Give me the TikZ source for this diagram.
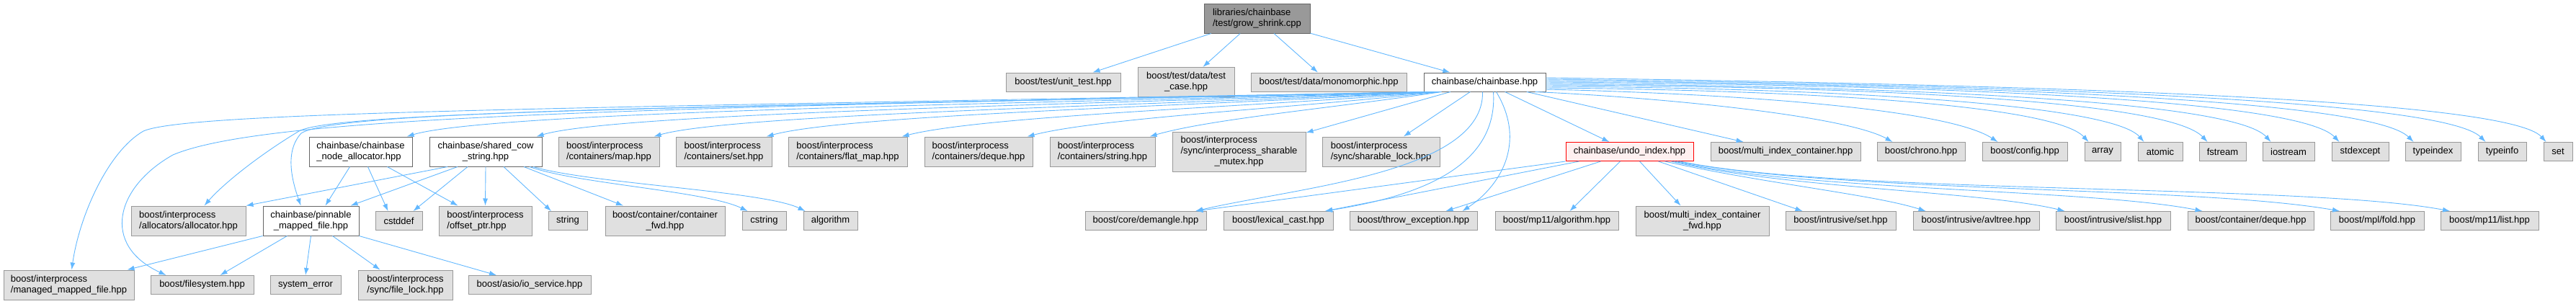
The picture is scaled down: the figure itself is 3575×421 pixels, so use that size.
\documentclass[tikz,border=0pt]{standalone}
\usepackage{fontspec}
\setmainfont{Liberation Sans}
\usetikzlibrary{arrows.meta}
\definecolor{EdgeBlue}{HTML}{63B8FF}
\definecolor{ExtFill}{HTML}{E0E0E0}
\definecolor{ExtLine}{HTML}{999999}
\definecolor{RootFill}{HTML}{999999}
\definecolor{IncLine}{HTML}{666666}
\definecolor{CurFill}{HTML}{FFF0F0}
\definecolor{CurLine}{HTML}{FF0000}
\newcommand{\centerlast}[1]{\multicolumn{1}{@{}c@{}}{#1}}
\tikzset{
  file/.style={rectangle,inner sep=0pt,align=left,line width=1pt,
               font={\fontsize{13pt}{15pt}\selectfont}},
  ext/.style={file,draw=ExtLine,fill=ExtFill},
  inc/.style={file,draw=IncLine,fill=white},
  root/.style={file,draw=IncLine,fill=RootFill},
  cur/.style={file,draw=CurLine,fill=CurFill},
  h1/.style={minimum height=26pt},
  h2/.style={minimum height=41pt},
  h3/.style={minimum height=55pt},
  dep/.style={draw=EdgeBlue,line width=0.9pt,-{Latex[length=10pt,width=7pt]}}
}
\begin{document}
\begin{tikzpicture}[x=1pt,y=1pt]
\useasboundingbox (0,0) rectangle (3575,-421);
\node[root,h2,minimum width=147pt] (root) at (1744.5,-25.5) {libraries/chainbase\\/test/grow\_shrink.cpp};

\node[ext,h1,minimum width=159pt] (unittest) at (1475.5,-114) {boost/test/unit\_test.hpp};
\node[ext,h2,minimum width=134pt] (testcase) at (1646,-114) {\begin{tabular}{@{}l@{}}boost/test/data/test\\\centerlast{\_case.hpp}\end{tabular}};
\node[ext,h1,minimum width=216pt] (mono) at (1844,-114) {boost/test/data/monomorphic.hpp};
\node[inc,h1,minimum width=169pt] (chain) at (2060.5,-114) {chainbase/chainbase.hpp};

\node[inc,h2,minimum width=143pt] (nodealloc) at (500.5,-210.5) {chainbase/chainbase\\\_node\_allocator.hpp};
\node[inc,h2,minimum width=156pt] (cowstr) at (674,-210.5) {\begin{tabular}{@{}l@{}}chainbase/shared\_cow\\\centerlast{\_string.hpp}\end{tabular}};
\node[ext,h2,minimum width=140pt] (ipmap) at (845,-210.5) {boost/interprocess\\/containers/map.hpp};
\node[ext,h2,minimum width=133pt] (ipset) at (1004.5,-210.5) {boost/interprocess\\/containers/set.hpp};
\node[ext,h2,minimum width=165pt] (ipflatmap) at (1176.5,-210.5) {boost/interprocess\\/containers/flat\_map.hpp};
\node[ext,h2,minimum width=150pt] (ipdeque) at (1358,-210.5) {boost/interprocess\\/containers/deque.hpp};
\node[ext,h2,minimum width=146pt] (ipstring) at (1530,-210.5) {boost/interprocess\\/containers/string.hpp};
\node[ext,h3,minimum width=185pt] (ipmutex) at (1719.5,-210.5) {\begin{tabular}{@{}l@{}}boost/interprocess\\/sync/interprocess\_sharable\\\centerlast{\_mutex.hpp}\end{tabular}};
\node[ext,h2,minimum width=163pt] (iplock) at (1916.5,-210.5) {boost/interprocess\\/sync/sharable\_lock.hpp};
\node[cur,h1,minimum width=177pt] (undo) at (2261.5,-210.5) {chainbase/undo\_index.hpp};
\node[ext,h1,minimum width=208pt] (mic) at (2478,-210.5) {boost/multi\_index\_container.hpp};
\node[ext,h1,minimum width=122pt] (chrono) at (2666,-210.5) {boost/chrono.hpp};
\node[ext,h1,minimum width=118pt] (config) at (2810,-210.5) {boost/config.hpp};
\node[ext,h1,minimum width=50pt] (array) at (2918,-210.5) {array};
\node[ext,h1,minimum width=62pt] (atomic) at (2998,-210.5) {atomic};
\node[ext,h1,minimum width=65pt] (fstream) at (3084.5,-210.5) {fstream};
\node[ext,h1,minimum width=72pt] (iostream) at (3176,-210.5) {iostream};
\node[ext,h1,minimum width=79pt] (stdexcept) at (3275.5,-210.5) {stdexcept};
\node[ext,h1,minimum width=77pt] (typeindex) at (3376.5,-210.5) {typeindex};
\node[ext,h1,minimum width=67pt] (typeinfo) at (3472.5,-210.5) {typeinfo};
\node[ext,h1,minimum width=40pt] (stdset) at (3550,-210.5) {set};

\node[ext,h2,minimum width=159pt] (ipalloc) at (261.5,-306.5) {boost/interprocess\\/allocators/allocator.hpp};
\node[inc,h2,minimum width=133pt] (pinnable) at (431.5,-306.5) {\begin{tabular}{@{}l@{}}chainbase/pinnable\\\centerlast{\_mapped\_file.hpp}\end{tabular}};
\node[ext,h1,minimum width=65pt] (cstddef) at (553.5,-306.5) {cstddef};
\node[ext,h2,minimum width=129pt] (offsetptr) at (673.5,-306.5) {boost/interprocess\\/offset\_ptr.hpp};
\node[ext,h1,minimum width=54pt] (string) at (788,-306.5) {string};
\node[ext,h2,minimum width=166pt] (contfwd) at (923,-306.5) {\begin{tabular}{@{}l@{}}boost/container/container\\\centerlast{\_fwd.hpp}\end{tabular}};
\node[ext,h1,minimum width=61pt] (cstring) at (1060.5,-306.5) {cstring};
\node[ext,h1,minimum width=75pt] (algorithm) at (1152.5,-306.5) {algorithm};
\node[ext,h1,minimum width=168pt] (demangle) at (1590,-306.5) {boost/core/demangle.hpp};
\node[ext,h1,minimum width=152pt] (lexcast) at (1774,-306.5) {boost/lexical\_cast.hpp};
\node[ext,h1,minimum width=177pt] (throwexc) at (1961.5,-306.5) {boost/throw\_exception.hpp};
\node[ext,h1,minimum width=171pt] (mpalgo) at (2160.5,-306.5) {boost/mp11/algorithm.hpp};
\node[ext,h2,minimum width=185pt] (micfwd) at (2362.5,-306.5) {\begin{tabular}{@{}l@{}}boost/multi\_index\_container\\\centerlast{\_fwd.hpp}\end{tabular}};
\node[ext,h1,minimum width=153pt] (intrset) at (2554.5,-306.5) {boost/intrusive/set.hpp};
\node[ext,h1,minimum width=175pt] (avltree) at (2742.5,-306.5) {boost/intrusive/avltree.hpp};
\node[ext,h1,minimum width=159pt] (slist) at (2932.5,-306.5) {boost/intrusive/slist.hpp};
\node[ext,h1,minimum width=175pt] (contdeque) at (3123.5,-306.5) {boost/container/deque.hpp};
\node[ext,h1,minimum width=130pt] (mplfold) at (3299,-306.5) {boost/mpl/fold.hpp};
\node[ext,h1,minimum width=136pt] (mplist) at (3455,-306.5) {boost/mp11/list.hpp};

\node[ext,h2,minimum width=181pt] (ipmmf) at (95.5,-395.5) {boost/interprocess\\/managed\_mapped\_file.hpp};
\node[ext,h1,minimum width=143pt] (filesystem) at (280.5,-395.5) {boost/filesystem.hpp};
\node[ext,h1,minimum width=98pt] (syserr) at (424,-395.5) {system\_error};
\node[ext,h2,minimum width=131pt] (filelock) at (562.5,-395.5) {boost/interprocess\\/sync/file\_lock.hpp};
\node[ext,h1,minimum width=170pt] (ioservice) at (735,-395.5) {boost/asio/io\_service.hpp};

\draw[dep] (root) -- (unittest);
\draw[dep] (root) -- (testcase);
\draw[dep] (root) -- (mono);
\draw[dep] (root) -- (chain);

\draw[dep] (chain) -- (iplock);
\draw[dep] (chain) -- (ipmutex);
\draw[dep] (chain) -- (undo);
\draw[dep] (chain) -- (mic);
\draw[dep] ([xshift=25pt]chain.south west) .. controls (1850,-150) and (1680,-165) .. ([xshift=-8pt]ipstring.north east);
\draw[dep] ([xshift=23pt]chain.south west) .. controls (1800,-150) and (1530,-163) .. ([xshift=-8pt]ipdeque.north east);
\draw[dep] ([xshift=21pt]chain.south west) .. controls (1750,-148) and (1370,-160) .. ([xshift=-8pt]ipflatmap.north east);
\draw[dep] ([xshift=19pt]chain.south west) .. controls (1700,-146) and (1180,-158) .. ([xshift=-8pt]ipset.north east);
\draw[dep] ([xshift=17pt]chain.south west) .. controls (1650,-145) and (1020,-157) .. ([xshift=-8pt]ipmap.north east);
\draw[dep] ([xshift=15pt]chain.south west) .. controls (1600,-143) and (860,-155) .. ([xshift=-8pt]cowstr.north east);
\draw[dep] ([xshift=13pt]chain.south west) .. controls (1550,-142) and (690,-152) .. ([xshift=-8pt]nodealloc.north east);
\draw[dep] ([xshift=11pt]chain.south west) .. controls (1100,-148) and (470,-150) .. (418,-185) .. controls (395,-210) and (405,-250) .. ([xshift=-14pt]pinnable.north);
\draw[dep] ([xshift=9pt]chain.south west) .. controls (1100,-148) and (470,-152) .. (415,-182) .. controls (360,-215) and (310,-255) .. ([xshift=-58pt]ipalloc.north east);
\draw[dep] ([xshift=7pt]chain.south west) .. controls (900,-150) and (370,-160) .. (240,-215) .. controls (160,-260) and (140,-340) .. ([xshift=-50pt]filesystem.north);
\draw[dep] ([xshift=5pt]chain.south west) .. controls (800,-150) and (260,-155) .. (199,-182) .. controls (150,-210) and (110,-300) .. ([xshift=4pt]ipmmf.north);
\draw[dep] ([xshift=-3pt]chain.south) .. controls (2060,-240) and (1800,-260) .. ([xshift=69pt]demangle.north);
\draw[dep] ([xshift=12pt]chain.south) .. controls (2080,-240) and (1950,-275) .. ([xshift=65pt]lexcast.north);
\draw[dep] ([xshift=16pt]chain.south) .. controls (2120,-200) and (2080,-260) .. ([xshift=68pt]throwexc.north);
\draw[dep] ([xshift=-15pt]chain.south east) .. controls (2300,-135) and (2560,-160) .. ([xshift=22pt]chrono.north west);
\draw[dep] ([yshift=-10pt]chain.east) .. controls (2400,-130) and (2700,-150) .. ([xshift=22pt]config.north west);
\draw[dep] ([yshift=-8pt]chain.east) .. controls (2500,-125) and (2850,-145) .. ([xshift=6pt]array.north west);
\draw[dep] ([yshift=-6pt]chain.east) .. controls (2550,-122) and (2930,-145) .. ([xshift=9pt]atomic.north west);
\draw[dep] ([yshift=-4pt]chain.east) .. controls (2600,-120) and (3010,-140) .. ([xshift=12pt]fstream.north west);
\draw[dep] ([yshift=-2pt]chain.east) .. controls (2650,-120) and (3100,-140) .. ([xshift=12pt]iostream.north west);
\draw[dep] (chain.east) .. controls (2700,-118) and (3190,-138) .. ([xshift=11pt]stdexcept.north west);
\draw[dep] ([yshift=2pt]chain.east) .. controls (2750,-118) and (3290,-138) .. ([xshift=12pt]typeindex.north west);
\draw[dep] ([yshift=4pt]chain.east) .. controls (2800,-118) and (3390,-138) .. ([xshift=11pt]typeinfo.north west);
\draw[dep] ([yshift=6pt]chain.east) .. controls (2850,-118) and (3480,-138) .. ([xshift=4pt]stdset.north west);

\draw[dep] ([xshift=-15pt]nodealloc.south) -- ([xshift=20pt]pinnable.north);
\draw[dep] ([xshift=10pt]nodealloc.south) -- ([xshift=-15pt]cstddef.north);
\draw[dep] ([xshift=37pt]nodealloc.south) -- ([xshift=-38pt]offsetptr.north);

\draw[dep] ([xshift=-53pt]cowstr.south) -- (ipalloc.north east);
\draw[dep] ([xshift=-39pt]cowstr.south) -- ([xshift=55pt]pinnable.north);
\draw[dep] ([xshift=-25pt]cowstr.south) -- ([xshift=20pt]cstddef.north);
\draw[dep] (cowstr.south) -- (offsetptr.north);
\draw[dep] ([xshift=25pt]cowstr.south) -- ([xshift=-23pt]string.north);
\draw[dep] ([xshift=53pt]cowstr.south) -- ([xshift=-58pt]contfwd.north);
\draw[dep] ([xshift=61pt]cowstr.south) .. controls (800,-255) and (980,-265) .. ([xshift=-23pt]cstring.north);
\draw[dep] ([xshift=66pt]cowstr.south) .. controls (820,-255) and (1060,-265) .. ([xshift=-35pt]algorithm.north);

\draw[dep] (pinnable.south west) -- ([xshift=-10pt]ipmmf.north east);
\draw[dep] ([xshift=-33pt]pinnable.south) -- ([xshift=25pt]filesystem.north);
\draw[dep] (pinnable.south) -- (syserr.north);
\draw[dep] ([xshift=30pt]pinnable.south) -- ([xshift=-35pt]filelock.north);
\draw[dep] (pinnable.south east) -- ([xshift=-46pt]ioservice.north);

\draw[dep] (undo.south west) -- ([xshift=-15pt]demangle.north east);
\draw[dep] ([xshift=-70pt]undo.south) -- ([xshift=65pt]lexcast.north);
\draw[dep] ([xshift=-40pt]undo.south) -- ([xshift=45pt]throwexc.north);
\draw[dep] ([xshift=-13pt]undo.south) -- ([xshift=18pt]mpalgo.north);
\draw[dep] ([xshift=14pt]undo.south) -- ([xshift=-30pt]micfwd.north);
\draw[dep] ([xshift=40pt]undo.south) -- ([xshift=-53pt]intrset.north);
\draw[dep] ([xshift=49pt]undo.south) .. controls (2450,-255) and (2600,-270) .. ([xshift=-70pt]avltree.north);
\draw[dep] ([xshift=58pt]undo.south) .. controls (2480,-262) and (2750,-265) .. ([xshift=-67pt]slist.north);
\draw[dep] ([xshift=62pt]undo.south) .. controls (2500,-265) and (2900,-262) .. ([xshift=-67pt]contdeque.north);
\draw[dep] ([xshift=66pt]undo.south) .. controls (2550,-268) and (3050,-258) .. ([xshift=-52pt]mplfold.north);
\draw[dep] ([xshift=70pt]undo.south) .. controls (2550,-270) and (3200,-255) .. ([xshift=-55pt]mplist.north);
\end{tikzpicture}
\end{document}
